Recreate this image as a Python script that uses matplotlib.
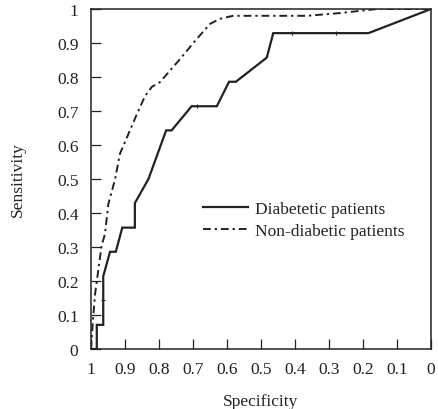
import matplotlib
matplotlib.use("Agg")
import matplotlib.pyplot as plt

# ROC curves: specificity (x, reversed) vs sensitivity (y)
diab_spec = [1.0, 0.983, 0.983, 0.964, 0.964, 0.944, 0.927, 0.908, 0.871, 0.871,
             0.831, 0.779, 0.763, 0.704, 0.630, 0.594, 0.574, 0.483, 0.464, 0.184, 0.0]
diab_sens = [0.0, 0.0, 0.071, 0.071, 0.214, 0.286, 0.286, 0.357, 0.357, 0.429,
             0.5, 0.643, 0.643, 0.714, 0.714, 0.786, 0.786, 0.857, 0.929, 0.929, 1.0]

# small tick marks sitting on the diabetic curve
diab_mark_spec = [0.688, 0.409, 0.278]
diab_mark_sens = [0.714, 0.929, 0.929]
diab_vmark_spec = [0.964]
diab_vmark_sens = [0.143]

nondiab_spec = [1.0, 0.994, 0.988, 0.969, 0.959, 0.949, 0.929, 0.915, 0.865, 0.841,
                0.821, 0.797, 0.738, 0.694, 0.650, 0.621, 0.582, 0.365, 0.268, 0.159, 0.0]
nondiab_sens = [0.0, 0.088, 0.162, 0.303, 0.338, 0.426, 0.5, 0.574, 0.691, 0.744,
                0.771, 0.785, 0.853, 0.906, 0.956, 0.971, 0.980, 0.980, 0.988, 1.0, 1.0]

ticks = [1, 0.9, 0.8, 0.7, 0.6, 0.5, 0.4, 0.3, 0.2, 0.1, 0]
tick_labels = ["1", "0.9", "0.8", "0.7", "0.6", "0.5", "0.4", "0.3", "0.2", "0.1", "0"]

plt.rcParams['font.family'] = ['Liberation Serif', 'DejaVu Serif']
ink = "#222222"
fs = 12.5

fig = plt.figure(figsize=(4.38, 4.10), dpi=100)
ax = fig.add_axes([91/438, 60/410, 340/438, 340/410])

ax.plot(diab_spec, diab_sens, color=ink, lw=1.6, solid_joinstyle='miter',
        label="Diabetetic patients")
ax.plot(nondiab_spec, nondiab_sens, color=ink, lw=1.4,
        linestyle=(0, (4, 2, 1.2, 2)), label="Non-diabetic patients")
ax.plot(diab_mark_spec, diab_mark_sens, linestyle='none', marker='|',
        markersize=3, color=ink, markeredgewidth=0.8)
ax.plot(diab_vmark_spec, diab_vmark_sens, linestyle='none', marker='_',
        markersize=3, color=ink, markeredgewidth=0.8)

ax.set_xlim(1, 0)
ax.set_ylim(0, 1)
ax.set_xticks(ticks)
ax.set_xticklabels(tick_labels)
ax.set_yticks(ticks)
ax.set_yticklabels(tick_labels)
ax.tick_params(direction='in', length=7, width=0.9, color=ink,
               labelsize=fs, labelcolor=ink)
ax.tick_params(axis='x', pad=9)
ax.tick_params(axis='y', pad=9)
for s in ax.spines.values():
    s.set_linewidth(1.1)
    s.set_color(ink)

ax.set_xlabel("Specificity", fontsize=fs, color=ink, labelpad=11)
ax.set_ylabel("Sensitivity", fontsize=fs, color=ink, labelpad=22)

ax.legend(loc='upper left', bbox_to_anchor=(0.31, 0.455), frameon=False,
          fontsize=fs, handlelength=2.6, handletextpad=0.4, labelspacing=0.3,
          borderaxespad=0, labelcolor=ink)

fig.savefig("out.png", dpi=100)
